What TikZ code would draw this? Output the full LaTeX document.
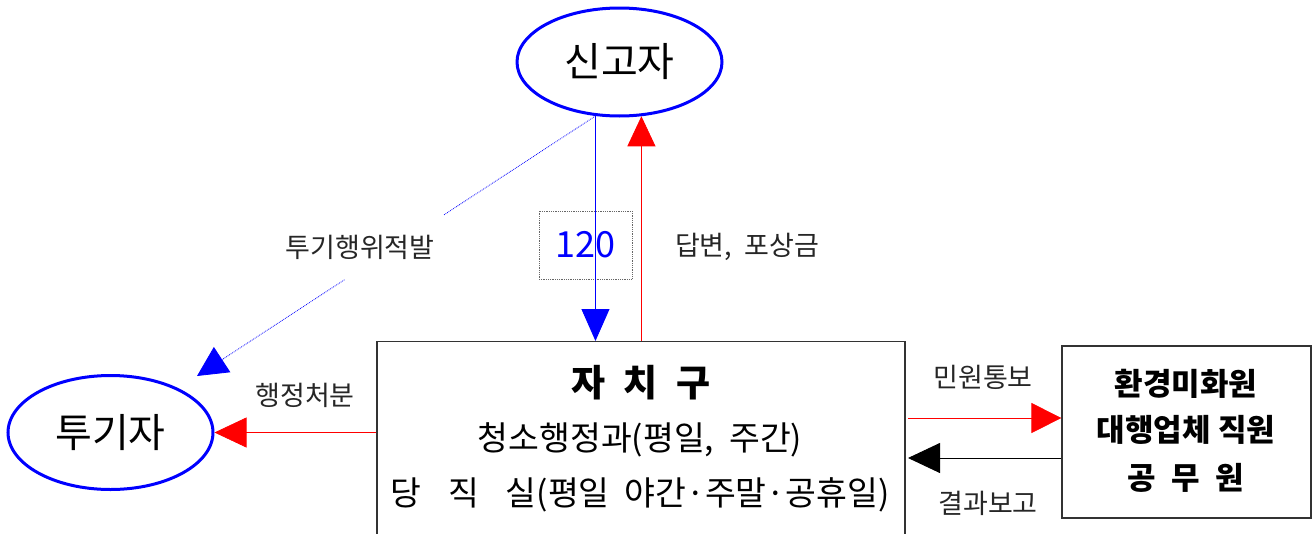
\documentclass[tikz,border=0pt]{standalone}
\usepackage{fontspec}
\setmainfont{Noto Sans CJK KR}
\usetikzlibrary{shapes.geometric,arrows.meta,calc}
\newcommand\fsz[2]{\fontsize{#1}{#2}\selectfont}
\begin{document}
\begin{tikzpicture}[x=1pt,y=-1pt,
  actor/.style={ellipse, draw=blue, line width=3pt, minimum width=205pt, minimum height=108pt, inner sep=0pt, font=\fsz{40}{46}},
  boxst/.style={draw=black!80, line width=1.2pt, fill=white, inner sep=0pt},
  lbl/.style={text=black!85, font=\fsz{27}{32}, inner sep=1pt},
  boxtxt/.style={font=\fsz{33.5}{38}, inner sep=1pt},
  boldtxt/.style={font=\bfseries\fsz{31}{36}, inner sep=1pt},
  conn/.style={line width=0.9pt}
]
\useasboundingbox (0,0) rectangle (1316,533);
% nodes
\node[actor] (s) at (619.5,62) {신고자};
\node[actor, minimum height=114pt] (t) at (110.5,432.5) {투기자};
\node[boxst, minimum width=528pt, minimum height=260pt, anchor=north] (z) at (641,341) {};
\node[boxst, minimum width=249pt, minimum height=172pt] (r) at (1186.5,432) {};
\node[draw=black!60, densely dotted, line width=0.8pt, minimum width=93pt, minimum height=68pt, text=blue, font=\fsz{36}{40}, inner sep=0pt] (n) at (585.5,245) {120};
% box texts
\node[font=\bfseries\fsz{37}{42}, inner sep=1pt] (z1) at (641,383) {자\hspace{0.5em}치\hspace{0.5em}구};
\node[boxtxt] (z2) at (640,440) {청소행정과(평일,\ \ 주간)};
\node[boxtxt] (z3) at (640,495) {당\hspace{0.8em}직\hspace{0.8em}실(평일\ \ 야간·주말·공휴일)};
\node[boldtxt] (r1) at (1186,384) {환경미화원};
\node[boldtxt] (r2) at (1186,430) {대행업체 직원};
\node[boldtxt] (r3) at (1186,478) {공\hspace{0.5em}무\hspace{0.5em}원};
% labels
\node[lbl] (l1) at (360,247) {투기행위적발};
\node[lbl] (l2) at (747,247) {답변,\ \ 포상금};
\node[lbl] (l3) at (305,395) {행정처분};
\node[lbl] (l4) at (983,377) {민원통보};
\node[lbl] (l5) at (988,503) {결과보고};
% coordinates
\coordinate (dtip) at (197,376);
\coordinate (m1) at (908,418);
\coordinate (k1) at (908,458);
% connectors
\draw[conn, blue, -{Triangle[length=32pt,width=28pt]}] (s.-114) -- (s.-114 |- z.north);
\draw[conn, red, line width=0.7pt, -{Triangle[length=30pt,width=28pt]}] (z.north -| s.-68) -- (s.-68);
\draw[blue, densely dotted, line width=0.8pt] (s.-114) -- ($(s.-114)!0.38!(dtip)$);
\draw[blue, densely dotted, line width=0.8pt, -{Triangle[length=30pt,width=30pt]}] ($(s.-114)!0.63!(dtip)$) -- (dtip);
\draw[conn, red, line width=0.7pt, -{Triangle[length=32pt,width=30pt]}] (z.west |- t.east) -- (t.east);
\draw[conn, red, line width=0.7pt, -{Triangle[length=30pt,width=30pt]}] (m1) -- (m1 -| r.west);
\draw[conn, black, -{Triangle[length=32pt,width=30pt]}] (k1 -| r.west) -- (k1);
\end{tikzpicture}
\end{document}
